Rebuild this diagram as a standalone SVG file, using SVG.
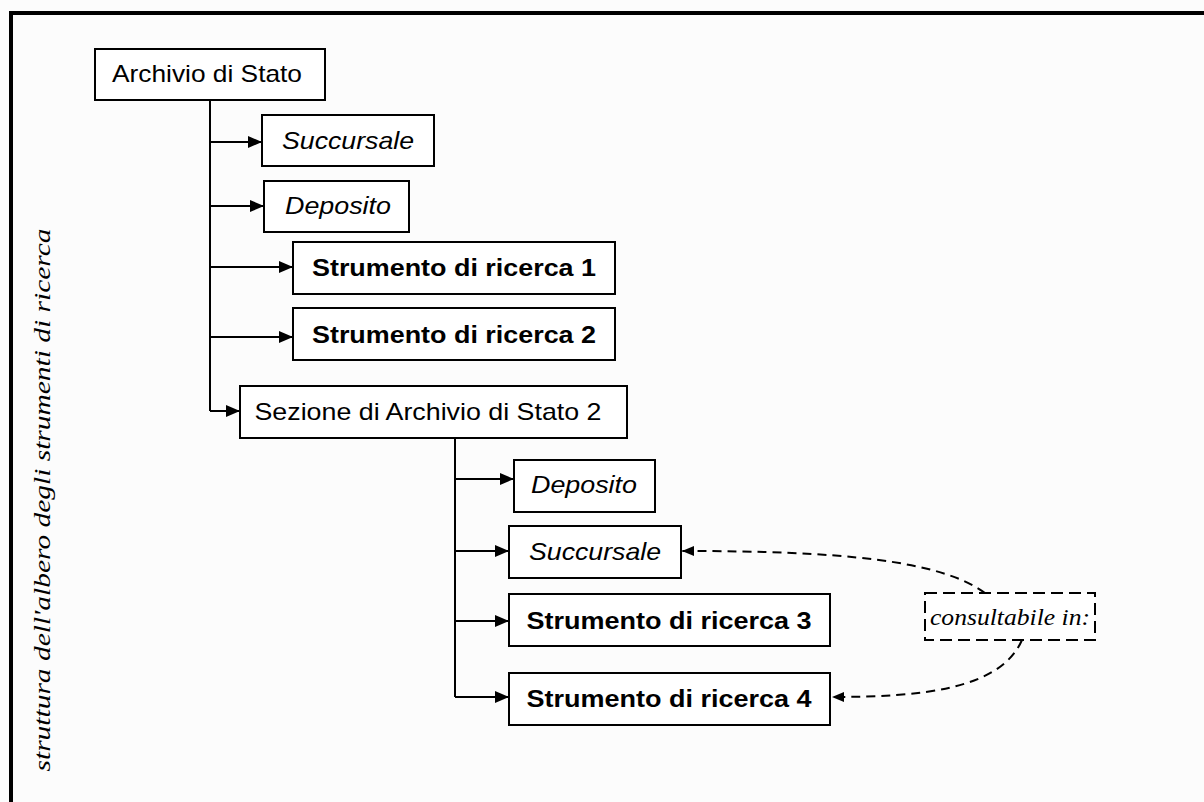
<svg xmlns="http://www.w3.org/2000/svg" width="1204" height="802" viewBox="0 0 1204 802">
<defs>
<marker id="ah" viewBox="0 0 14 12" refX="14" refY="6" markerWidth="14" markerHeight="12" markerUnits="userSpaceOnUse" orient="auto">
<path d="M0,0 L14,6 L0,12 Z" fill="#000"/>
</marker>
<marker id="ah2" viewBox="0 0 12 10" refX="12" refY="5" markerWidth="12" markerHeight="10" markerUnits="userSpaceOnUse" orient="auto">
<path d="M0,0 L12,5 L0,10 Z" fill="#000"/>
</marker>
</defs>
<style>
.box{fill:#fff;stroke:#000;stroke-width:2}
.dbox{fill:#fff;stroke:#000;stroke-width:2;stroke-dasharray:12 6}
.t{font-family:"Liberation Sans",Arial,sans-serif;font-size:24px;fill:#000;text-anchor:middle;dominant-baseline:central}
.i{font-style:italic}
.b{font-weight:bold}
.s{font-family:"Liberation Serif","Times New Roman",serif;font-style:italic;font-size:24px;fill:#000}
.ln{fill:none;stroke:#000;stroke-width:2}
.dl{fill:none;stroke:#000;stroke-width:2;stroke-dasharray:9 6}
</style>
<rect x="0" y="0" width="1204" height="802" fill="#fcfcfc"/>
<path d="M11,802 L11,13 L1204,13" fill="none" stroke="#000" stroke-width="4"/>
<text class="s" transform="translate(42,500) rotate(-90)" text-anchor="middle" dominant-baseline="central" textLength="543" lengthAdjust="spacingAndGlyphs">struttura dell'albero degli strumenti di ricerca</text>

<g id="connectors">
<path class="ln" d="M210,99 L210,411"/>
<path class="ln" d="M210,142 L262,142" marker-end="url(#ah)"/>
<path class="ln" d="M210,206 L264,206" marker-end="url(#ah)"/>
<path class="ln" d="M210,267 L293,267" marker-end="url(#ah)"/>
<path class="ln" d="M210,337 L293,337" marker-end="url(#ah)"/>
<path class="ln" d="M210,411 L240,411" marker-end="url(#ah)"/>
<path class="ln" d="M455,438 L455,697"/>
<path class="ln" d="M455,479 L514,479" marker-end="url(#ah)"/>
<path class="ln" d="M455,551 L509,551" marker-end="url(#ah)"/>
<path class="ln" d="M455,621 L509,621" marker-end="url(#ah)"/>
<path class="ln" d="M455,697 L509,697" marker-end="url(#ah)"/>
<path class="dl" d="M985,593 C940,560 840,551 682,551" marker-end="url(#ah2)"/>
<path class="dl" d="M1022,640 C1000,690 920,697 832,697" marker-end="url(#ah2)"/>
</g>

<g id="n_archivio"><rect class="box" x="95" y="49" width="230" height="51"/><text class="t" x="207" y="73" textLength="190" lengthAdjust="spacingAndGlyphs">Archivio di Stato</text></g>
<g id="n_succursale1"><rect class="box" x="262" y="115" width="172" height="51"/><text class="t i" x="348" y="140" textLength="132" lengthAdjust="spacingAndGlyphs">Succursale</text></g>
<g id="n_deposito1"><rect class="box" x="264" y="181" width="145" height="51"/><text class="t i" x="338" y="205" textLength="106" lengthAdjust="spacingAndGlyphs">Deposito</text></g>
<g id="n_strumento1"><rect class="box" x="293" y="242" width="322" height="52"/><text class="t b" x="454" y="267" textLength="284" lengthAdjust="spacingAndGlyphs">Strumento di ricerca 1</text></g>
<g id="n_strumento2"><rect class="box" x="293" y="308" width="322" height="52"/><text class="t b" x="454" y="334" textLength="284" lengthAdjust="spacingAndGlyphs">Strumento di ricerca 2</text></g>
<g id="n_sezione"><rect class="box" x="240" y="386" width="387" height="52"/><text class="t" x="428" y="411" textLength="347" lengthAdjust="spacingAndGlyphs">Sezione di Archivio di Stato 2</text></g>
<g id="n_deposito2"><rect class="box" x="514" y="460" width="141" height="52"/><text class="t i" x="584" y="484" textLength="106" lengthAdjust="spacingAndGlyphs">Deposito</text></g>
<g id="n_succursale2"><rect class="box" x="509" y="526" width="172" height="52"/><text class="t i" x="595" y="551" textLength="132" lengthAdjust="spacingAndGlyphs">Succursale</text></g>
<g id="n_strumento3"><rect class="box" x="509" y="594" width="321" height="52"/><text class="t b" x="669" y="620" textLength="285" lengthAdjust="spacingAndGlyphs">Strumento di ricerca 3</text></g>
<g id="n_strumento4"><rect class="box" x="509" y="673" width="321" height="52"/><text class="t b" x="669" y="698" textLength="285" lengthAdjust="spacingAndGlyphs">Strumento di ricerca 4</text></g>
<g id="n_consultabile"><rect class="dbox" x="925" y="593" width="170" height="47"/><text class="s" x="1010" y="617" text-anchor="middle" dominant-baseline="central" textLength="160" lengthAdjust="spacingAndGlyphs">consultabile in:</text></g>
</svg>
